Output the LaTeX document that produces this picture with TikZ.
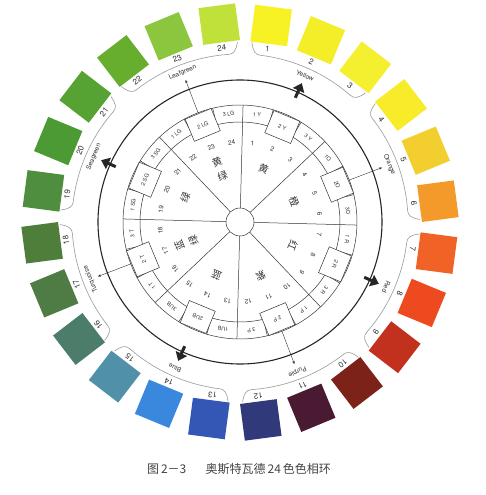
\documentclass[tikz,border=0pt]{standalone}
\usepackage{fontspec}
\setmainfont{TeX Gyre Heros}
\newfontfamily\cjk{Noto Sans CJK SC}
\usetikzlibrary{arrows.meta}
\definecolor{c1}{HTML}{F6F224}
\definecolor{c2}{HTML}{F4EE28}
\definecolor{c3}{HTML}{F4F030}
\definecolor{c4}{HTML}{F8EC2A}
\definecolor{c5}{HTML}{F2CF2E}
\definecolor{c6}{HTML}{F39A2A}
\definecolor{c7}{HTML}{F16226}
\definecolor{c8}{HTML}{EE4A20}
\definecolor{c9}{HTML}{C2301E}
\definecolor{c10}{HTML}{7C2218}
\definecolor{c11}{HTML}{4A1A32}
\definecolor{c12}{HTML}{303A7A}
\definecolor{c13}{HTML}{3456B4}
\definecolor{c14}{HTML}{3A88DE}
\definecolor{c15}{HTML}{5090A8}
\definecolor{c16}{HTML}{4C7C6A}
\definecolor{c17}{HTML}{4E7C44}
\definecolor{c18}{HTML}{4F7E3A}
\definecolor{c19}{HTML}{4E8E3E}
\definecolor{c20}{HTML}{4C9A34}
\definecolor{c21}{HTML}{56A232}
\definecolor{c22}{HTML}{68AE2E}
\definecolor{c23}{HTML}{8CC63E}
\definecolor{c24}{HTML}{C0E03A}
\definecolor{ink}{HTML}{333333}
\definecolor{brkgray}{HTML}{9A9A9A}
\definecolor{captiongray}{HTML}{444444}
\begin{document}
\begin{tikzpicture}[x=1pt,y=1pt,
  wline/.style={draw=ink, line width=0.5pt},
  swatch/.style={minimum size=37pt, inner sep=0pt, outer sep=0pt},
  numlab/.style={font=\fontsize{8}{8}\selectfont, text=ink, inner sep=0.5pt},
  grplab/.style={font=\fontsize{6.5}{6.5}\selectfont, text=ink, inner sep=0.5pt},
  celllab/.style={font=\fontsize{5.5}{5.5}\selectfont, text=ink, inner sep=0pt},
  seclab/.style={font=\fontsize{6.5}{6.5}\selectfont, text=ink, inner sep=0pt},
  hanzi/.style={font=\cjk\fontsize{10}{10}\selectfont, text=ink, inner sep=0pt},
  midbox/.style={draw=ink, line width=0.5pt, fill=white, minimum width=28pt, minimum height=24pt, inner sep=0pt},
  brk/.style={draw=brkgray, line width=0.6pt},
  thinarrow/.style={draw=ink, line width=0.4pt, shorten >=4pt, -{Stealth[length=3pt,width=2.4pt]}},
  fatarrow/.style={draw=black!85, line width=3pt, -{Triangle[length=8pt,width=12pt]}},
]
\fill[white] (-240,-273) rectangle (246,222);
\useasboundingbox (-240,-273) rectangle (246,222);
\begin{scope}[rotate=-1.5]
% swatches, outer numbers, sector numbers
\foreach \k in {1,...,24}{
  \pgfmathsetmacro\th{97.5-15*\k}
  \node[swatch, fill=c\k, rotate=\th-90] (sw\k) at (\th:199) {};
  \node[numlab, rotate=\th-90] (num\k) at (\th:175) {\k};
  \node[seclab, rotate=\th-90] (sec\k) at (\th:80) {\k};
}
% brackets and group labels
\foreach \g/\name in {0/Yellow,1/Orange,2/Red,3/Purple,4/Blue,5/Turquoise,6/Seagreen,7/Leafgreen}{
  \pgfmathsetmacro\c{67.5-45*\g}
  \begin{scope}[rotate=\c-90]
    \draw[brk] (110.2:180) .. controls (109.6:171) and (108.8:168) .. (107:168)
      arc[start angle=107,end angle=73,radius=168]
      .. controls (71.2:168) and (70.4:171) .. (69.8:180);
  \end{scope}
  \node[grplab, rotate=\c-90] (lab\g) at (\c:160) {\name};
}
% wheel circles
\draw[line width=1.1pt, draw=black!85] (0,0) circle[radius=142];
\draw[wline] (0,0) circle[radius=117];
\draw[wline] (0,0) circle[radius=100];
\foreach \a in {0,45,...,315} \draw[wline] (\a:14) -- (\a:117);
\foreach \g in {0,...,7}{
  \pgfmathsetmacro\c{67.5-45*\g}
  \draw[wline] (\c+7.5:100) -- (\c+7.5:117);
  \draw[wline] (\c-7.5:100) -- (\c-7.5:117);
  \node[midbox, rotate=\c-90] (box\g) at (\c:104) {};
}
\node[draw=ink, line width=0.5pt, fill=white, circle, minimum size=28pt, inner sep=0pt] (hub) at (0,0) {};
% cell labels
\foreach \g/\s in {0/\ Y,1/O,2/\ R,3/\ P,4/UB,5/\ T,6/\ SG,7/\ LG}{
  \pgfmathsetmacro\c{67.5-45*\g}
  \node[celllab, rotate=\c-75] (cla\g) at (\c+15:108.5) {1\s};
  \node[celllab, rotate=\c-90] (clb\g) at (\c:104) {2\s};
  \node[celllab, rotate=\c-105] (clc\g) at (\c-15:108.5) {3\s};
}
% thin arrows
\foreach \g in {1,3,5,7}{
  \pgfmathsetmacro\c{67.5-45*\g}
  \coordinate (ta\g) at (\c:117);
  \draw[thinarrow] (ta\g) -- (lab\g.south);
}
% fat arrows
\foreach \g in {0,2,4,6}{
  \pgfmathsetmacro\c{67.5-45*\g}
  \coordinate (fa\g) at (\c:136);
  \coordinate (fb\g) at (\c:152);
  \draw[fatarrow] (fa\g) -- (fb\g);
}
% hanzi
\node[hanzi, rotate=-22.5] (hz0) at (67.5:58) {黄};
\node[hanzi, rotate=-67.5] (hz1) at (22.5:58) {橙};
\node[hanzi, rotate=-112.5] (hz2) at (-22.5:58) {红};
\node[hanzi, rotate=-157.5] (hz3) at (-67.5:58) {紫};
\node[hanzi, rotate=-202.5] (hz4) at (-112.5:58) {蓝};
\node[hanzi, rotate=-247.5] (hz5a) at (-157.5:65) {蓝};
\node[hanzi, rotate=-247.5] (hz5b) at (-157.5:50) {绿};
\node[hanzi, rotate=67.5] (hz6) at (157.5:60) {绿};
\node[hanzi, rotate=22.5] (hz7a) at (112.5:64) {黄};
\node[hanzi, rotate=22.5] (hz7b) at (112.5:49) {绿};
\end{scope}
\node[font=\cjk\fontsize{12}{12}\selectfont, text=captiongray, inner sep=0pt] (cap) at (-1,-247) {图\,2－3\hspace{1.6em}奥斯特瓦德\,24\,色色相环};
\end{tikzpicture}
\end{document}
